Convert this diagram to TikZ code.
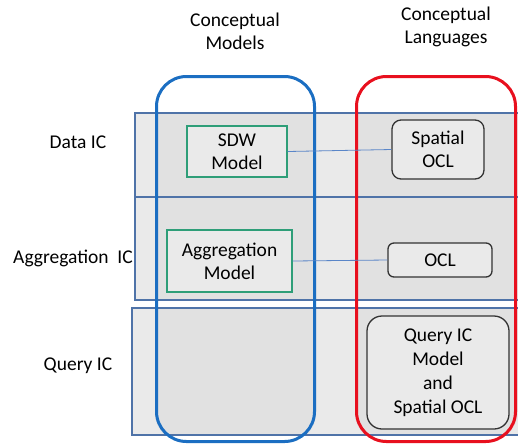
\documentclass[tikz,border=0pt]{standalone}
\usepackage{fontspec}
\setmainfont{Carlito}
\definecolor{bandfill}{HTML}{EAEAEA}
\definecolor{colfill}{HTML}{E1E1E1}
\definecolor{bandline}{HTML}{4F73A8}
\definecolor{colblue}{HTML}{1B6EC2}
\definecolor{colred}{HTML}{E8101E}
\definecolor{boxgreen}{HTML}{2E9E78}
\definecolor{boxdark}{HTML}{333333}
\definecolor{linkblue}{HTML}{5A86C8}
\begin{document}
\begin{tikzpicture}[x=1pt,y=-1pt,
  every node/.style={font=\fontsize{19.5}{23}\selectfont, align=center, inner sep=0pt},
  band/.style={draw=bandline, line width=1.1pt},
  column/.style={line width=3pt, rounded corners=30pt},
  modelbox/.style={draw=boxgreen, line width=1.4pt, fill=bandfill},
  langbox/.style={draw=boxdark, line width=1.3pt, fill=bandfill},
  link/.style={draw=linkblue, line width=0.8pt}]
\useasboundingbox (0,0) rectangle (518,445);

% row bands
\fill[bandfill] (135,113) rectangle (520,197);
\fill[bandfill] (135,197) rectangle (520,300);
\fill[bandfill] (132,308) rectangle (520,435);

% darker column interiors inside the bands
\begin{scope}
  \clip (135,113) rectangle (520,300) (132,308) rectangle (520,435);
  \fill[colfill, rounded corners=30pt] (155,75) rectangle (316,443);
  \fill[colfill, rounded corners=30pt] (355,75) rectangle (517,443);
\end{scope}

% band outlines
\draw[band] (135,113) rectangle (520,197);
\draw[band] (135,197) rectangle (520,300);
\draw[band] (132,308) rectangle (520,435);

% columns
\draw[column, draw=colblue] (156.5,76.5) rectangle (314.5,441.5);
\draw[column, draw=colred] (356.5,76.5) rectangle (515.5,441.5);

% column titles
\node (tmodels) at (235,31) {Conceptual\\Models};
\node (tlang) at (446,27) {Conceptual\\Languages};

% row labels
\node (ldata) at (78,142) {Data IC};
\node (lagg) at (73,258) {Aggregation\ \ IC};
\node (lquery) at (78,366) {Query IC};

% model boxes
\node[modelbox, minimum width=100pt, minimum height=51pt] (sdw) at (237,151.5) {SDW\\Model};
\node[modelbox, minimum width=125pt, minimum height=62pt] (aggm) at (229.5,261) {Aggregation\\Model};

% language boxes
\node[langbox, rounded corners=9pt, minimum width=92pt, minimum height=59pt] (socl) at (438,149.5) {Spatial\\OCL};
\node[langbox, rounded corners=6pt, minimum width=104pt, minimum height=34pt] (ocl) at (440,260) {OCL};
\node[langbox, rounded corners=15pt, minimum width=142pt, minimum height=113pt,
      font=\fontsize{19.5}{24}\selectfont] (qocl) at (438,372.5) {Query IC\\Model\\and\\Spatial OCL};

% links
\draw[link] (sdw.east) -- (socl.west);
\draw[link] (aggm.east) -- (ocl.west);
\end{tikzpicture}
\end{document}
